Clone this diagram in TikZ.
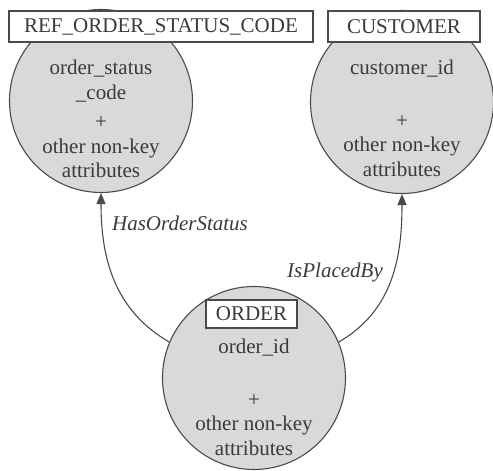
\documentclass[tikz,border=0pt]{standalone}
\usepackage{fontspec}
\setmainfont{Liberation Serif}
\usepackage{xcolor}
\usetikzlibrary{arrows.meta, positioning}

\definecolor{inkgray}{HTML}{3A3A3A}
\definecolor{linegray}{HTML}{4A4A4A}
\definecolor{entfill}{HTML}{D9D9D9}

\begin{document}
\begin{tikzpicture}[
    x=1pt, y=1pt,
    entity/.style={circle, draw=linegray, fill=entfill, line width=1.1pt, minimum size=183pt, inner sep=0pt},
    title/.style={rectangle, draw=linegray, fill=white, line width=1.1pt, inner xsep=8pt, inner ysep=4pt, minimum height=31pt, font=\fontsize{21}{24}\selectfont, text=inkgray},
    attr/.style={align=center, font=\fontsize{21}{24.5}\selectfont, text=inkgray},
    rel/.style={font=\fontsize{21}{24}\selectfont\itshape, text=inkgray},
    arrow/.style={-{Triangle[width=9pt, length=11pt]}, draw=linegray, line width=1.1pt}
]
\useasboundingbox (0,0) rectangle (493,471);

% Entities
\node[entity] (refcode) at (101,370) {};
\node[entity] (customer) at (402,369) {};
\node[entity] (order) at (254,93) {};

% Entity names
\node[title, minimum width=304pt] (refcodename) at (161,444.5) {REF\_ORDER\_STATUS\_CODE};
\node[title, minimum width=152pt] (customername) at (404,444.5) {CUSTOMER};
\node[title, minimum width=91pt, minimum height=28pt] (ordername) at (251.5,157) {ORDER};

% Attributes
\node[attr] (refcodeattr) at (101,352) {order\_status\\\_code\\[5pt]+\\other non-key\\attributes};
\node[attr] (customerattr) at (402,352.5) {customer\_id\\[28pt]+\\other non-key\\attributes};
\node[attr] (orderattr) at (254,73.5) {order\_id\\[28pt]+\\other non-key\\attributes};

% Relationships
\draw[arrow] (order.157) to[out=150, in=-90] (refcode.south);
\draw[arrow] (order.23) to[out=30, in=-90] (customer.south);

\node[rel] (hasstatus) at (180,248) {HasOrderStatus};
\node[rel] (placedby) at (335,199) {IsPlacedBy};

\end{tikzpicture}
\end{document}
